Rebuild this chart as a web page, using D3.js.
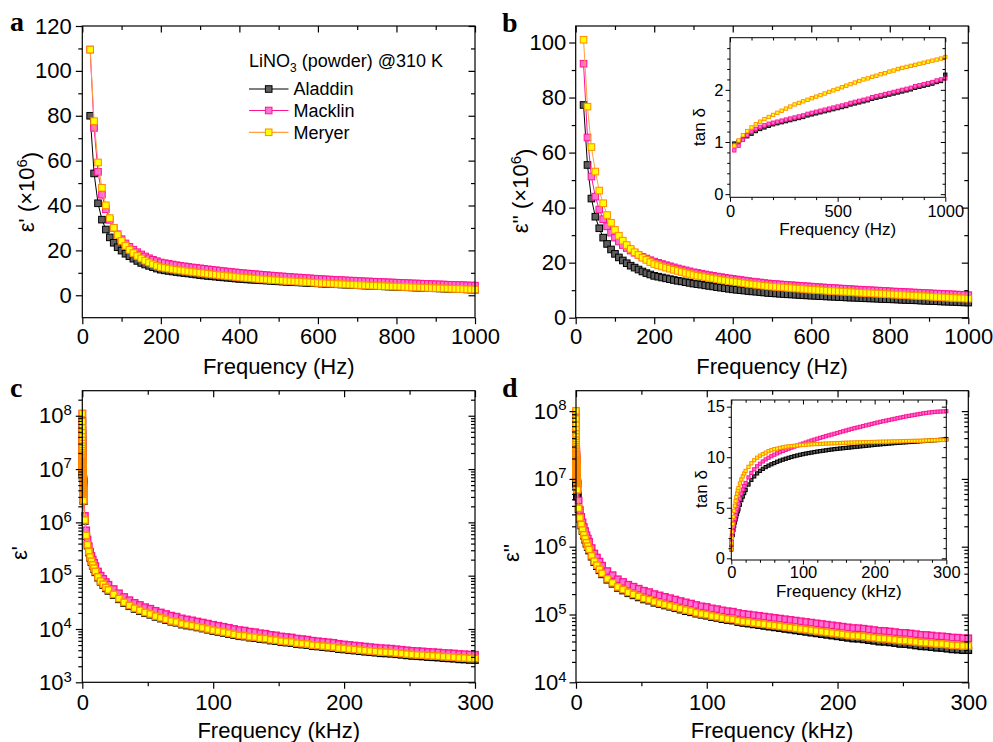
<!DOCTYPE html>
<html>
<head>
<meta charset="utf-8">
<script src="https://cdn.jsdelivr.net/npm/d3@7"></script>
<style>
  body { margin: 0; background: #fff; }
  svg { display: block; }
</style>
</head>
<body>
<svg id="fig" width="993" height="742"></svg>
<script>
// ---------- measurement data ----------
// Low-frequency sweep, Hz
const freqHz = [20,30,40,50,60,70,80,90,100,110,120,130,140,150,160,170,180,190,200,210,220,230,240,250,260,270,280,290,300,310,320,330,340,350,360,370,380,390,400,410,420,430,440,450,460,470,480,490,500,510,520,530,540,550,560,570,580,590,600,610,620,630,640,650,660,670,680,690,700,710,720,730,740,750,760,770,780,790,800,810,820,830,840,850,860,870,880,890,900,910,920,930,940,950,960,970,980,990,1000];

// ε' (×10^6)
const epsReAladdin = [80,54.3,41,33.7,29.3,25.8,23.4,21.4,19.9,18.5,17.4,16.3,15.3,14.4,13.7,13.1,12.5,11.9,11.4,11.1,10.85,10.6,10.35,10.1,9.9,9.7,9.5,9.25,9.0,8.8,8.6,8.45,8.3,8.1,7.95,7.8,7.65,7.45,7.3,7.2,7.05,6.95,6.85,6.75,6.65,6.55,6.45,6.3,6.2,6.1,6.0,5.9,5.8,5.75,5.65,5.55,5.45,5.4,5.3,5.2,5.1,5.05,4.95,4.9,4.8,4.75,4.65,4.6,4.5,4.4,4.35,4.25,4.2,4.1,4.05,3.95,3.9,3.8,3.75,3.7,3.6,3.55,3.5,3.4,3.35,3.3,3.2,3.15,3.1,3.05,3.0,2.9,2.85,2.8,2.75,2.7,2.6,2.55,2.5];
const epsReMacklin = [109.5,74.6,55,44.8,38.3,33.6,30.0,27.2,25.0,23.1,21.6,20.3,19.2,18.2,17.3,16.5,15.8,15.2,14.6,14.3,14.0,13.7,13.4,13.1,12.9,12.65,12.4,12.2,12.0,11.8,11.55,11.35,11.15,10.95,10.75,10.55,10.35,10.2,10.0,9.85,9.7,9.55,9.4,9.25,9.1,8.95,8.8,8.65,8.5,8.4,8.25,8.15,8.0,7.9,7.8,7.65,7.55,7.4,7.3,7.2,7.1,7.0,6.9,6.8,6.75,6.65,6.55,6.5,6.4,6.3,6.2,6.15,6.05,6.0,5.9,5.85,5.75,5.7,5.6,5.55,5.45,5.4,5.3,5.25,5.2,5.1,5.05,4.95,4.9,4.85,4.8,4.7,4.65,4.6,4.55,4.5,4.4,4.35,4.3];
const epsReMeryer = [109.5,77.6,59.2,47.9,40.1,34.4,30.1,26.9,24.2,22.0,20.2,18.8,17.5,16.4,15.4,14.6,13.8,13.1,12.5,12.2,11.9,11.6,11.35,11.1,10.85,10.6,10.4,10.2,10.0,9.8,9.55,9.35,9.15,8.95,8.75,8.55,8.4,8.2,8.0,7.85,7.7,7.55,7.4,7.25,7.1,7.0,6.85,6.7,6.6,6.5,6.35,6.25,6.15,6.05,5.95,5.85,5.75,5.6,5.5,5.4,5.3,5.2,5.15,5.05,4.95,4.85,4.75,4.7,4.6,4.5,4.45,4.35,4.25,4.2,4.1,4.05,3.95,3.9,3.85,3.8,3.7,3.65,3.55,3.5,3.45,3.35,3.3,3.2,3.15,3.1,3.05,3.0,2.9,2.85,2.8,2.75,2.65,2.6,2.55];

// ε'' (×10^6)
const epsImAladdin = [77.3,55.5,43.3,36.7,32.5,29.1,26.8,24.8,23.2,21.9,20.8,19.8,18.9,18.2,17.5,16.8,16.2,15.7,15.2,14.9,14.6,14.3,14.0,13.7,13.4,13.2,12.9,12.65,12.4,12.2,12.0,11.75,11.55,11.35,11.1,10.9,10.7,10.5,10.3,10.15,10.0,9.85,9.7,9.55,9.45,9.3,9.15,9.0,8.9,8.8,8.7,8.6,8.5,8.45,8.35,8.25,8.15,8.1,8.0,7.95,7.85,7.8,7.7,7.65,7.6,7.5,7.45,7.35,7.3,7.25,7.2,7.1,7.05,7.0,6.95,6.9,6.8,6.75,6.7,6.65,6.6,6.5,6.45,6.4,6.35,6.3,6.2,6.15,6.1,6.05,6.0,5.9,5.85,5.8,5.75,5.7,5.6,5.55,5.5];
const epsImMacklin = [92.3,65.5,51.3,44.0,39.3,35.8,33.2,30.9,29.1,27.7,26.4,25.3,24.4,23.6,22.8,22.1,21.5,20.9,20.4,19.95,19.5,19.1,18.7,18.3,17.9,17.55,17.2,16.85,16.5,16.25,16.0,15.7,15.45,15.2,14.95,14.75,14.5,14.3,14.1,13.9,13.7,13.5,13.3,13.1,12.95,12.8,12.6,12.45,12.3,12.2,12.1,12.0,11.9,11.8,11.7,11.6,11.5,11.4,11.3,11.2,11.1,11.0,10.9,10.8,10.75,10.65,10.55,10.5,10.4,10.3,10.2,10.15,10.05,10.0,9.9,9.85,9.75,9.7,9.6,9.5,9.45,9.4,9.3,9.25,9.15,9.1,9.0,8.95,8.9,8.8,8.75,8.7,8.6,8.55,8.5,8.4,8.35,8.3,8.2];
const epsImMeryer = [101,76.7,62,53.1,46.2,41.6,37.3,34.5,31.9,29.8,28.0,26.4,25.0,23.8,22.8,21.8,21.0,20.2,19.5,19.05,18.6,18.2,17.8,17.4,17.0,16.6,16.25,15.9,15.5,15.25,15.0,14.75,14.5,14.25,14.0,13.75,13.5,13.3,13.1,12.9,12.7,12.5,12.3,12.1,11.95,11.8,11.6,11.45,11.3,11.2,11.1,11.0,10.85,10.75,10.65,10.55,10.45,10.3,10.2,10.1,10.0,9.9,9.8,9.7,9.65,9.55,9.45,9.4,9.3,9.2,9.1,9.05,8.95,8.9,8.8,8.75,8.65,8.6,8.5,8.4,8.35,8.25,8.2,8.1,8.0,7.95,7.85,7.8,7.7,7.6,7.5,7.45,7.35,7.3,7.2,7.15,7.05,7.0,6.9];

// tan δ, low-frequency sweep
const tanFreqHz = [20,40,60,80,100,120,140,160,180,200,220,240,260,280,300,320,340,360,380,400,420,440,460,480,500,520,540,560,580,600,620,640,660,680,700,720,740,760,780,800,820,840,860,880,900,920,940,960,980,1000];
const tanHzAladdin = [0.97,1.01,1.06,1.11,1.16,1.21,1.25,1.28,1.31,1.34,1.36,1.38,1.40,1.42,1.44,1.46,1.48,1.51,1.53,1.55,1.57,1.59,1.61,1.63,1.65,1.67,1.69,1.72,1.74,1.76,1.78,1.80,1.83,1.85,1.87,1.89,1.91,1.93,1.95,1.97,1.99,2.01,2.04,2.06,2.08,2.10,2.12,2.15,2.17,2.29];
const tanHzMacklin = [0.84,0.93,1.04,1.13,1.20,1.25,1.29,1.32,1.35,1.37,1.39,1.41,1.43,1.45,1.47,1.49,1.51,1.54,1.56,1.58,1.60,1.62,1.64,1.66,1.68,1.70,1.72,1.75,1.77,1.79,1.81,1.83,1.86,1.88,1.90,1.92,1.94,1.96,1.98,2.00,2.02,2.04,2.07,2.09,2.11,2.13,2.15,2.18,2.20,2.22];
const tanHzMeryer = [0.93,1.03,1.13,1.21,1.28,1.34,1.39,1.44,1.48,1.52,1.56,1.60,1.64,1.68,1.72,1.75,1.78,1.81,1.84,1.87,1.90,1.93,1.96,1.99,2.02,2.05,2.08,2.11,2.14,2.17,2.20,2.22,2.25,2.27,2.30,2.32,2.35,2.37,2.40,2.42,2.44,2.46,2.48,2.50,2.52,2.54,2.56,2.58,2.60,2.63];

// High-frequency sweep, kHz
const freqKHz = [2,3,4,5,6,7,8,9,10,12,14,16,18,20,24,28,32,36,40,44,48,52,56,60,64,68,72,76,80,84,88,92,96,100,104,108,112,116,120,124,128,132,136,140,144,148,152,156,160,164,168,172,176,180,184,188,192,196,200,204,208,212,216,220,224,228,232,236,240,244,248,252,256,260,264,268,272,276,280,284,288,292,296,300];

const epsReHFAladdin = [1.07e6,5.5e5,3.68e5,2.73e5,2.17e5,1.80e5,1.54e5,1.34e5,1.16e5,9.2e4,7.7e4,6.7e4,5.8e4,5.2e4,4.33e4,3.61e4,3.07e4,2.68e4,2.38e4,2.17e4,1.98e4,1.85e4,1.69e4,1.57e4,1.47e4,1.37e4,1.31e4,1.21e4,1.16e4,1.12e4,1.07e4,1.02e4,9.7e3,9.2e3,8.83e3,8.45e3,8.07e3,7.68e3,7.33e3,7.21e3,6.89e3,6.77e3,6.47e3,6.36e3,6.07e3,5.93e3,5.69e3,5.56e3,5.46e3,5.22e3,5.10e3,5.01e3,4.78e3,4.70e3,4.58e3,4.47e3,4.40e3,4.20e3,4.13e3,4.03e3,3.94e3,3.84e3,3.75e3,3.68e3,3.60e3,3.51e3,3.48e3,3.43e3,3.36e3,3.28e3,3.20e3,3.13e3,3.09e3,3.05e3,2.98e3,2.95e3,2.91e3,2.84e3,2.81e3,2.77e3,2.70e3,2.68e3,2.63e3,2.62e3];
const epsReHFMacklin = [1.32e6,7.08e5,4.79e5,3.55e5,2.82e5,2.34e5,2.00e5,1.74e5,1.51e5,1.20e5,1.00e5,8.71e4,7.59e4,6.76e4,5.62e4,4.68e4,3.98e4,3.47e4,3.09e4,2.82e4,2.57e4,2.40e4,2.19e4,2.04e4,1.91e4,1.78e4,1.70e4,1.58e4,1.51e4,1.45e4,1.38e4,1.32e4,1.26e4,1.20e4,1.15e4,1.10e4,1.05e4,1.00e4,9.55e3,9.33e3,8.91e3,8.71e3,8.32e3,8.13e3,7.76e3,7.59e3,7.24e3,7.08e3,6.92e3,6.61e3,6.46e3,6.31e3,6.03e3,5.89e3,5.75e3,5.62e3,5.50e3,5.25e3,5.13e3,5.01e3,4.90e3,4.79e3,4.68e3,4.57e3,4.47e3,4.37e3,4.33e3,4.27e3,4.17e3,4.07e3,3.98e3,3.89e3,3.85e3,3.80e3,3.72e3,3.68e3,3.63e3,3.55e3,3.52e3,3.47e3,3.39e3,3.36e3,3.31e3,3.29e3];
const epsReHFMeryer = [1.10e6,5.7e5,3.80e5,2.82e5,2.24e5,1.86e5,1.59e5,1.38e5,1.20e5,9.5e4,7.9e4,6.9e4,6.0e4,5.4e4,4.46e4,3.72e4,3.16e4,2.76e4,2.45e4,2.24e4,2.04e4,1.91e4,1.74e4,1.62e4,1.52e4,1.41e4,1.35e4,1.25e4,1.20e4,1.15e4,1.10e4,1.05e4,1.00e4,9.5e3,9.13e3,8.73e3,8.34e3,7.94e3,7.58e3,7.46e3,7.13e3,7.01e3,6.70e3,6.59e3,6.29e3,6.15e3,5.90e3,5.77e3,5.67e3,5.42e3,5.30e3,5.21e3,4.97e3,4.89e3,4.77e3,4.66e3,4.59e3,4.38e3,4.31e3,4.21e3,4.12e3,4.02e3,3.93e3,3.86e3,3.78e3,3.69e3,3.66e3,3.61e3,3.54e3,3.46e3,3.38e3,3.31e3,3.27e3,3.23e3,3.16e3,3.13e3,3.09e3,3.02e3,2.99e3,2.95e3,2.88e3,2.86e3,2.81e3,2.80e3];

const epsImHFAladdin = [3.58e6,2.59e6,2.06e6,1.71e6,1.46e6,1.27e6,1.11e6,9.9e5,8.8e5,7.13e5,5.93e5,5.17e5,4.50e5,3.92e5,3.26e5,2.84e5,2.47e5,2.26e5,2.06e5,1.92e5,1.79e5,1.67e5,1.60e5,1.49e5,1.43e5,1.36e5,1.30e5,1.24e5,1.18e5,1.12e5,1.08e5,1.03e5,9.9e4,9.6e4,9.17e4,8.92e4,8.54e4,8.29e4,8.13e4,7.75e4,7.50e4,7.34e4,7.15e4,6.97e4,6.79e4,6.62e4,6.46e4,6.30e4,6.13e4,5.99e4,5.83e4,5.68e4,5.54e4,5.40e4,5.27e4,5.13e4,5.01e4,4.89e4,4.77e4,4.65e4,4.53e4,4.42e4,4.39e4,4.30e4,4.19e4,4.09e4,3.98e4,3.95e4,3.88e4,3.79e4,3.68e4,3.66e4,3.58e4,3.49e4,3.40e4,3.37e4,3.30e4,3.23e4,3.20e4,3.13e4,3.06e4,3.03e4,2.98e4,2.98e4];
const epsImHFMacklin = [4.79e6,3.47e6,2.75e6,2.29e6,1.95e6,1.70e6,1.48e6,1.32e6,1.18e6,9.55e5,7.94e5,6.92e5,6.03e5,5.25e5,4.37e5,3.80e5,3.31e5,3.02e5,2.75e5,2.57e5,2.40e5,2.24e5,2.14e5,2.00e5,1.91e5,1.82e5,1.74e5,1.66e5,1.58e5,1.51e5,1.45e5,1.38e5,1.32e5,1.29e5,1.23e5,1.20e5,1.15e5,1.12e5,1.10e5,1.05e5,1.02e5,1.00e5,9.77e4,9.55e4,9.33e4,9.12e4,8.91e4,8.71e4,8.51e4,8.32e4,8.13e4,7.94e4,7.76e4,7.59e4,7.41e4,7.24e4,7.08e4,6.92e4,6.76e4,6.61e4,6.46e4,6.31e4,6.28e4,6.17e4,6.03e4,5.89e4,5.75e4,5.72e4,5.62e4,5.50e4,5.37e4,5.35e4,5.25e4,5.13e4,5.01e4,4.98e4,4.90e4,4.79e4,4.76e4,4.68e4,4.57e4,4.55e4,4.47e4,4.45e4];
const epsImHFMeryer = [3.69e6,2.67e6,2.12e6,1.76e6,1.50e6,1.31e6,1.14e6,1.02e6,9.1e5,7.35e5,6.11e5,5.33e5,4.64e5,4.04e5,3.36e5,2.93e5,2.55e5,2.33e5,2.12e5,1.98e5,1.85e5,1.72e5,1.65e5,1.54e5,1.47e5,1.40e5,1.34e5,1.28e5,1.22e5,1.16e5,1.12e5,1.06e5,1.02e5,9.93e4,9.47e4,9.24e4,8.86e4,8.62e4,8.47e4,8.09e4,7.85e4,7.70e4,7.52e4,7.35e4,7.18e4,7.02e4,6.86e4,6.71e4,6.55e4,6.41e4,6.26e4,6.11e4,5.98e4,5.84e4,5.71e4,5.57e4,5.45e4,5.33e4,5.21e4,5.09e4,4.97e4,4.86e4,4.84e4,4.75e4,4.64e4,4.54e4,4.43e4,4.40e4,4.33e4,4.24e4,4.13e4,4.12e4,4.04e4,3.95e4,3.86e4,3.83e4,3.77e4,3.69e4,3.67e4,3.60e4,3.52e4,3.50e4,3.44e4,3.43e4];

// tan δ, full sweep (kHz)
const tanFreqKHz = [0.02,0.2,0.5,1,2,3,4,5,6,7,8,9,10,12,14,16,18,20,24,28,32,36,40,44,48,52,56,60,64,68,72,76,80,84,88,92,96,100,104,108,112,116,120,124,128,132,136,140,144,148,152,156,160,164,168,172,176,180,184,188,192,196,200,204,208,212,216,220,224,228,232,236,240,244,248,252,256,260,264,268,272,276,280,284,288,292,296,300];
const tanKHzAladdin = [0.97,1.34,1.65,2.25,2.3,2.8,3.2,3.55,3.85,4.15,4.4,4.65,4.85,5.3,5.75,6.1,6.45,6.75,7.3,7.75,8.1,8.4,8.65,8.85,9.02,9.17,9.3,9.42,9.55,9.66,9.76,9.85,9.94,10.02,10.1,10.17,10.24,10.3,10.36,10.41,10.46,10.51,10.56,10.6,10.64,10.68,10.72,10.76,10.8,10.83,10.86,10.89,10.92,10.95,10.98,11.01,11.04,11.07,11.1,11.13,11.16,11.19,11.22,11.25,11.27,11.3,11.32,11.35,11.37,11.4,11.42,11.44,11.46,11.48,11.5,11.52,11.54,11.56,11.58,11.6,11.62,11.64,11.66,11.68,11.7,11.72,11.74,11.8];
const tanKHzMacklin = [0.84,1.37,1.68,2.22,2.6,3.1,3.5,3.9,4.25,4.6,4.9,5.15,5.4,5.9,6.4,6.8,7.15,7.45,8.0,8.45,8.8,9.1,9.35,9.58,9.78,9.95,10.1,10.25,10.38,10.5,10.62,10.73,10.84,10.95,11.05,11.15,11.25,11.35,11.45,11.55,11.65,11.74,11.83,11.92,12.0,12.08,12.16,12.24,12.32,12.4,12.48,12.56,12.64,12.72,12.8,12.87,12.94,13.01,13.08,13.15,13.22,13.29,13.36,13.43,13.5,13.56,13.62,13.68,13.74,13.8,13.86,13.92,13.98,14.04,14.09,14.14,14.19,14.24,14.29,14.34,14.38,14.42,14.45,14.48,14.5,14.52,14.53,14.55];
const tanKHzMeryer = [0.93,1.52,2.02,2.63,3.4,4.1,4.7,5.2,5.65,6.05,6.4,6.7,6.95,7.4,7.8,8.1,8.4,8.65,9.05,9.4,9.7,9.95,10.15,10.3,10.45,10.6,10.7,10.8,10.85,10.92,10.98,11.03,11.08,11.1,11.13,11.16,11.19,11.21,11.23,11.26,11.28,11.3,11.3,11.32,11.33,11.35,11.36,11.37,11.38,11.4,11.4,11.42,11.43,11.44,11.45,11.46,11.47,11.47,11.48,11.49,11.5,11.5,11.51,11.52,11.53,11.54,11.54,11.55,11.56,11.57,11.57,11.58,11.59,11.6,11.6,11.61,11.62,11.62,11.63,11.64,11.65,11.66,11.67,11.68,11.69,11.7,11.71,11.72];

// ---------- tick values ----------
const hzTicks = [0,200,400,600,800,1000], hzMinor = [100,300,500,700,900];
const aYTicks = [0,20,40,60,80,100,120], aYMinor = [10,30,50,70,90,110];
const bYTicks = [0,20,40,60,80,100], bYMinor = [10,30,50,70,90];
const insHzTicks = [0,500,1000], insHzMinor = [100,200,300,400,600,700,800,900];
const insBYTicks = [0,1,2], insBYMinor = [0.2,0.4,0.6,0.8,1.2,1.4,1.6,1.8,2.2,2.4,2.6,2.8];
const kHzTicks = [0,100,200,300], kHzMinor = [50,150,250];
const cYTicks = [1e3,1e4,1e5,1e6,1e7,1e8];
const dYTicks = [1e4,1e5,1e6,1e7,1e8];
const insKHzTicks = [0,100,200,300], insKHzMinor = [20,40,60,80,120,140,160,180,220,240,260,280];
const insDYTicks = [0,5,10,15], insDYMinor = [1,2,3,4,6,7,8,9,11,12,13,14];
const sampleNames = ["Aladdin","Macklin","Meryer"];

// ---------- styling ----------
const FONT = '"Liberation Sans", Arial, Helvetica, sans-serif';
const SERIF = '"Liberation Serif", "Times New Roman", serif';
const look = {
  Aladdin: { fill: "#5e5e5e", stroke: "#000000", line: "#000000" },
  Macklin: { fill: "#ff70d4", stroke: "#ff1493", line: "#ff1493" },
  Meryer:  { fill: "#ffff00", stroke: "#ff8c00", line: "#ffa040" }
};

const svg = d3.select("#fig");
svg.append("rect").attr("width", 993).attr("height", 742).attr("fill", "#fff");

// log-axis minor ticks (2..9 × 10^k) inside a domain
function logMinor(domain) {
  const out = [];
  for (let k = Math.floor(Math.log10(domain[0])); k <= Math.ceil(Math.log10(domain[1])); k++) {
    for (let m = 2; m <= 9; m++) {
      const v = m * Math.pow(10, k);
      if (v > domain[0] && v < domain[1]) out.push(v);
    }
  }
  return out;
}

// Boxed axes: labelled ticks outward on bottom/left, mirrored ticks inward on top/right
function axes(g, x, y, o) {
  const [x0, x1] = x.range(), [yb, yt] = y.range();
  const blank = () => "";
  const add = (tr, axis, fs) => {
    const s = g.append("g").attr("transform", tr).call(axis.tickSizeOuter(0));
    s.select(".domain").remove();
    s.attr("font-family", FONT).attr("font-size", fs || 10).style("color", "#000");
    s.selectAll("line").attr("stroke-width", o.sw);
    return s;
  };
  add(`translate(0,${yb})`, d3.axisBottom(x).tickValues(o.xMinor).tickSize(o.tMinor).tickFormat(blank));
  add(`translate(0,${yb})`, d3.axisBottom(x).tickValues(o.xMajor).tickSize(o.tMajor).tickPadding(o.xPad).tickFormat(d3.format("d")), o.fs);
  add(`translate(0,${yt})`, d3.axisTop(x).tickValues(o.xMinor).tickSize(-o.tMinor).tickFormat(blank));
  add(`translate(0,${yt})`, d3.axisTop(x).tickValues(o.xMajor).tickSize(-o.tMajor).tickFormat(blank));
  add(`translate(${x0},0)`, d3.axisLeft(y).tickValues(o.yMinor).tickSize(o.tMinor).tickFormat(blank));
  const left = add(`translate(${x0},0)`, d3.axisLeft(y).tickValues(o.yMajor).tickSize(o.tMajor).tickPadding(o.yPad)
      .tickFormat(o.yLog ? blank : d3.format("d")), o.fs);
  add(`translate(${x1},0)`, d3.axisRight(y).tickValues(o.yMinor).tickSize(-o.tMinor).tickFormat(blank));
  add(`translate(${x1},0)`, d3.axisRight(y).tickValues(o.yMajor).tickSize(-o.tMajor).tickFormat(blank));
  if (o.yLog) {
    left.selectAll(".tick text").each(function (d) {
      const t = d3.select(this);
      t.append("tspan").text("10");
      t.append("tspan").attr("dy", "-0.55em").attr("font-size", o.fs * 0.68).text(Math.round(Math.log10(d)));
    });
  }
  g.append("rect").attr("x", x0).attr("y", yt).attr("width", x1 - x0).attr("height", yb - yt)
    .attr("fill", "none").attr("stroke", "#000").attr("stroke-width", o.sw);
}

// One sample: connecting line plus square markers
function drawSeries(g, x, y, xs, ys, st, size, sw, lw) {
  const n = Math.min(xs.length, ys.length);
  const pts = d3.range(n).map(i => [xs[i], ys[i]]);
  g.append("path").datum(pts)
    .attr("d", d3.line().x(d => x(d[0])).y(d => y(d[1])))
    .attr("fill", "none").attr("stroke", st.line).attr("stroke-width", lw);
  g.append("g").selectAll("rect").data(pts).join("rect")
    .attr("x", d => x(d[0]) - size / 2).attr("y", d => y(d[1]) - size / 2)
    .attr("width", size).attr("height", size)
    .attr("fill", st.fill).attr("stroke", st.stroke).attr("stroke-width", sw);
}

function text(x, y, str, fs, opts = {}) {
  return svg.append("text").attr("x", x).attr("y", y).attr("font-family", opts.family || FONT)
    .attr("font-size", fs).attr("font-weight", opts.weight || null)
    .attr("text-anchor", opts.anchor || "start").text(str);
}

function yTitle(cx, cy, parts, fs) {
  const t = svg.append("text").attr("transform", `translate(${cx},${cy}) rotate(-90)`)
    .attr("text-anchor", "middle").attr("font-family", FONT).attr("font-size", fs);
  parts.forEach(p => {
    const s = t.append("tspan").text(p.t);
    if (p.sup) s.attr("dy", "-0.5em").attr("font-size", fs * 0.68);
    if (p.after) s.attr("dy", "0.5em");
  });
  return t;
}

const mainOpts = { sw: 1.2, tMajor: 6.5, tMinor: 4, fs: 22 };
const insetOpts = { sw: 1, tMajor: 4.5, tMinor: 2.8, fs: 16.5 };

// ---------- panel a: ε' vs f (Hz) ----------
{
  const g = svg.append("g");
  const x = d3.scaleLinear([0, 1000], [82.3, 475]);
  const y = d3.scaleLinear([-10, 120], [317.7, 26]);
  const ys = { Aladdin: epsReAladdin, Macklin: epsReMacklin, Meryer: epsReMeryer };
  sampleNames.forEach(n => drawSeries(g, x, y, freqHz, ys[n], look[n], 6.6, 1, 1));
  axes(g, x, y, { ...mainOpts, xMajor: hzTicks, xMinor: hzMinor, yMajor: aYTicks, yMinor: aYMinor, xPad: 4.5, yPad: 4 });
}

// ---------- panel b: ε'' vs f (Hz) with tan δ inset ----------
{
  const g = svg.append("g");
  const x = d3.scaleLinear([0, 1000], [575.7, 968.3]);
  const y = d3.scaleLinear([0, 106], [317.7, 26]);
  const ys = { Aladdin: epsImAladdin, Macklin: epsImMacklin, Meryer: epsImMeryer };
  sampleNames.forEach(n => drawSeries(g, x, y, freqHz, ys[n], look[n], 6.6, 1, 1));
  axes(g, x, y, { ...mainOpts, xMajor: hzTicks, xMinor: hzMinor, yMajor: bYTicks, yMinor: bYMinor, xPad: 4.5, yPad: 3 });

  const gi = svg.append("g");
  const xi = d3.scaleLinear([0, 1000], [730, 945.3]);
  const yi = d3.scaleLinear([-0.06, 3], [197.3, 37.7]);
  gi.append("rect").attr("x", 730).attr("y", 37.7).attr("width", 215.3).attr("height", 159.6).attr("fill", "#fff");
  const ts = { Aladdin: tanHzAladdin, Macklin: tanHzMacklin, Meryer: tanHzMeryer };
  sampleNames.forEach(n => drawSeries(gi, xi, yi, tanFreqHz, ts[n], look[n], 3.4, 0.9, 0.8));
  axes(gi, xi, yi, { ...insetOpts, xMajor: insHzTicks, xMinor: insHzMinor, yMajor: insBYTicks, yMinor: insBYMinor, xPad: 3, yPad: 2 });
}

// ---------- panel c: ε' vs f (kHz), log scale ----------
{
  const g = svg.append("g");
  const x = d3.scaleLinear([0, 300], [82.3, 475]);
  const y = d3.scaleLog([1e3, 2.95e8], [682.3, 390.7]);
  const lo = { Aladdin: epsReAladdin, Macklin: epsReMacklin, Meryer: epsReMeryer };
  const hi = { Aladdin: epsReHFAladdin, Macklin: epsReHFMacklin, Meryer: epsReHFMeryer };
  const fx = freqHz.map(f => f / 1000).concat(freqKHz);
  sampleNames.forEach(n => drawSeries(g, x, y, fx, lo[n].map(v => v * 1e6).concat(hi[n]), look[n], 6.4, 1.35, 1));
  axes(g, x, y, { ...mainOpts, xMajor: kHzTicks, xMinor: kHzMinor, yMajor: cYTicks, yMinor: logMinor(y.domain()), xPad: 6, yPad: 4, yLog: true });
}

// ---------- panel d: ε'' vs f (kHz), log scale, with tan δ inset ----------
{
  const g = svg.append("g");
  const x = d3.scaleLinear([0, 300], [576, 968.3]);
  const y = d3.scaleLog([1e4, 2e8], [682.3, 390.7]);
  const lo = { Aladdin: epsImAladdin, Macklin: epsImMacklin, Meryer: epsImMeryer };
  const hi = { Aladdin: epsImHFAladdin, Macklin: epsImHFMacklin, Meryer: epsImHFMeryer };
  const fx = freqHz.map(f => f / 1000).concat(freqKHz);
  sampleNames.forEach(n => drawSeries(g, x, y, fx, lo[n].map(v => v * 1e6).concat(hi[n]), look[n], 6.4, 1.35, 1));
  axes(g, x, y, { ...mainOpts, xMajor: kHzTicks, xMinor: kHzMinor, yMajor: dYTicks, yMinor: logMinor(y.domain()), xPad: 6, yPad: 3, yLog: true });

  const gi = svg.append("g");
  const xi = d3.scaleLinear([0, 300], [731.3, 946.3]);
  const yi = d3.scaleLinear([-0.17, 15.66], [560, 400]);
  gi.append("rect").attr("x", 731.3).attr("y", 400).attr("width", 215).attr("height", 160).attr("fill", "#fff");
  const ts = { Aladdin: tanKHzAladdin, Macklin: tanKHzMacklin, Meryer: tanKHzMeryer };
  sampleNames.forEach(n => drawSeries(gi, xi, yi, tanFreqKHz, ts[n], look[n], 3.2, 1, 0.8));
  axes(gi, xi, yi, { ...insetOpts, xMajor: insKHzTicks, xMinor: insKHzMinor, yMajor: insDYTicks, yMinor: insDYMinor, xPad: 2.2, yPad: 1.8 });
}

// ---------- titles ----------
text(278.7, 373.5, "Frequency (Hz)", 22, { anchor: "middle" });
text(772, 373.5, "Frequency (Hz)", 22, { anchor: "middle" });
text(278.7, 738, "Frequency (kHz)", 22, { anchor: "middle" });
text(772, 738, "Frequency (kHz)", 22, { anchor: "middle" });
text(837.7, 235, "Frequency (Hz)", 17, { anchor: "middle" });
text(838.8, 596.5, "Frequency (kHz)", 17, { anchor: "middle" });

yTitle(34, 192, [{ t: "ε' (×10" }, { t: "6", sup: true }, { t: ")", after: true }], 22);
yTitle(528, 191, [{ t: "ε'' (×10" }, { t: "6", sup: true }, { t: ")", after: true }], 22);
yTitle(27, 553, [{ t: "ε'" }], 22);
yTitle(518.5, 553, [{ t: "ε''" }], 22);
yTitle(705, 127, [{ t: "tan δ" }], 17);
yTitle(706.5, 489, [{ t: "tan δ" }], 17);

// panel letters
[["a", 10, 31], ["b", 502, 32], ["c", 10, 397], ["d", 502, 397]].forEach(([s, px, py]) =>
  text(px, py, s, 28, { family: SERIF, weight: "bold" }));

// ---------- legend (panel a) ----------
{
  const t = svg.append("text").attr("x", 249).attr("y", 67).attr("font-family", FONT).attr("font-size", 18);
  t.append("tspan").text("LiNO");
  t.append("tspan").attr("dy", 5).attr("font-size", 12).text("3");
  t.append("tspan").attr("dy", -5).text(" (powder) @310 K");
  const rows = [89, 110.5, 132.3];
  sampleNames.forEach((n, i) => {
    const st = look[n], yy = rows[i];
    svg.append("line").attr("x1", 249).attr("x2", 288.5).attr("y1", yy).attr("y2", yy)
      .attr("stroke", st.line).attr("stroke-width", 1.2);
    svg.append("rect").attr("x", 268.7 - 3.3).attr("y", yy - 3.3).attr("width", 6.6).attr("height", 6.6)
      .attr("fill", st.fill).attr("stroke", st.stroke).attr("stroke-width", 1);
    svg.append("text").attr("x", 293.5).attr("y", yy).attr("dy", "0.35em")
      .attr("font-family", FONT).attr("font-size", 18).text(n);
  });
}
</script>
</body>
</html>
